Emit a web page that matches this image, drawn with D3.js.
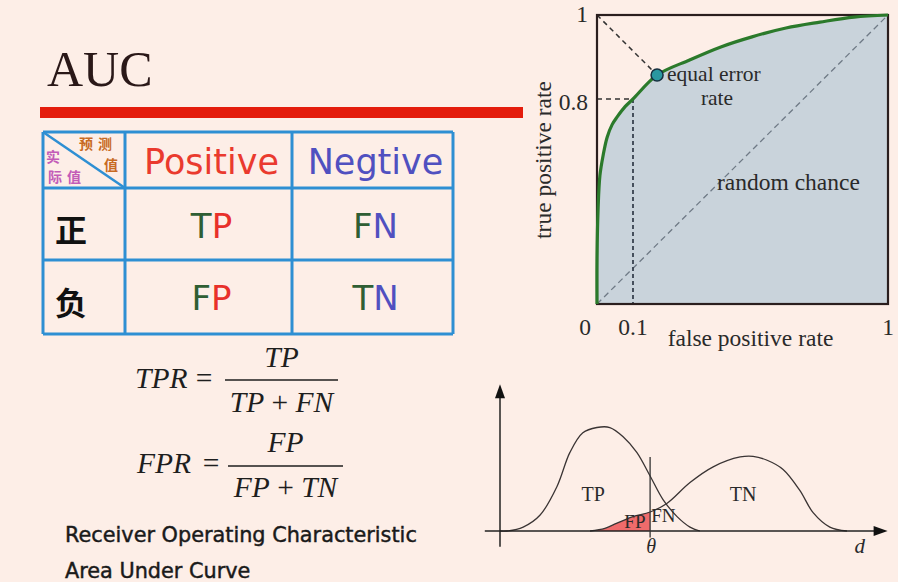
<!DOCTYPE html>
<html><head><meta charset="utf-8">
<script src="https://cdn.jsdelivr.net/npm/d3@7"></script>
<style>html,body{margin:0;padding:0;background:#fdeee7;} svg{display:block}</style>
</head><body><svg id="c" width="898" height="582"></svg>
<script>
// ---------- data ----------
const titleText = "AUC";
const colHeaders = ["Positive", "Negtive"];
const rowHeaders = ["正", "负"];
const cellLabels = [["TP", "FN"], ["FP", "TN"]];
const cornerPredicted = ["预测", "值"];
const cornerActual = ["实", "际值"];

const rocFPR = [0, 0, 0.003, 0.008, 0.017, 0.028, 0.042, 0.056, 0.078, 0.1, 0.185, 0.3, 0.41, 0.52, 0.64, 0.76, 0.88, 1];
const rocTPR = [0, 0.17, 0.37, 0.5, 0.58, 0.65, 0.70, 0.73, 0.77, 0.8, 0.857, 0.893, 0.924, 0.948, 0.969, 0.983, 0.995, 1];
const rocTicksX = [0, 0.1, 1];
const rocTicksY = [0.8, 1];
const eerPoint = [0.185, 0.857];
const operatingPoint = [0.1, 0.8];

const tpD = [0, 0.18, 0.61, 1.05, 1.5, 1.84, 2.18, 2.55, 2.89, 3.24, 3.6, 3.95, 4.29, 4.66, 5.0, 5.26];
const tpDensity = [0, 0, 0.03, 0.12, 0.34, 0.6, 0.75, 0.79, 0.79, 0.72, 0.6, 0.42, 0.24, 0.11, 0.03, 0];
const tnD = [2.37, 2.76, 3.08, 3.5, 3.95, 4.39, 5.0, 5.61, 6.32, 6.66, 7.03, 7.45, 7.89, 8.24, 8.68, 9.13];
const tnDensity = [0, 0.02, 0.06, 0.11, 0.145, 0.21, 0.37, 0.49, 0.565, 0.57, 0.54, 0.47, 0.31, 0.14, 0.03, 0];
const theta = 3.95;

// ---------- page ----------
const svg = d3.select("#c");
svg.append("rect").attr("width", 898).attr("height", 582).attr("fill", "#fdeee7");

const serif = "'Liberation Serif', 'Times New Roman', serif";
const sans = "'DejaVu Sans', Verdana, sans-serif";
const cjk = "'Noto Sans CJK SC', sans-serif";

svg.append("text").text(titleText).attr("x", 47).attr("y", 86)
  .attr("font-family", serif).attr("font-size", 50).attr("fill", "#2a1818");
svg.append("rect").attr("x", 40).attr("y", 107).attr("width", 483).attr("height", 11).attr("fill", "#e41c0c");

// ---------- confusion table ----------
const colEdges = [43, 125, 292, 453];
const rowEdges = [132, 188, 260, 334];
const tbl = svg.append("g");
const lineCol = "#2e8fd3";
colEdges.forEach(x => tbl.append("line").attr("x1", x).attr("x2", x).attr("y1", rowEdges[0]).attr("y2", rowEdges[3])
  .attr("stroke", lineCol).attr("stroke-width", 3));
rowEdges.forEach(y => tbl.append("line").attr("x1", colEdges[0]).attr("x2", colEdges[3]).attr("y1", y).attr("y2", y)
  .attr("stroke", lineCol).attr("stroke-width", 3));
tbl.append("line").attr("x1", colEdges[0]).attr("y1", rowEdges[0]).attr("x2", colEdges[1]).attr("y2", rowEdges[1])
  .attr("stroke", lineCol).attr("stroke-width", 2.5);

const cornerStyle = (t, col) => t.attr("font-family", cjk).attr("font-size", 14).attr("font-weight", 700)
  .attr("fill", col).attr("dominant-baseline", "central").attr("letter-spacing", 5);
cornerStyle(tbl.append("text").text(cornerPredicted[0]).attr("x", 79).attr("y", 143), "#c86a22");
cornerStyle(tbl.append("text").text(cornerPredicted[1]).attr("x", 104).attr("y", 164), "#c86a22");
cornerStyle(tbl.append("text").text(cornerActual[0]).attr("x", 46).attr("y", 156), "#c35cb8");
cornerStyle(tbl.append("text").text(cornerActual[1]).attr("x", 48).attr("y", 176), "#c35cb8");

const headColors = ["#ea3a2e", "#5050c0"];
colHeaders.forEach((h, i) => {
  tbl.append("text").text(h).attr("x", (colEdges[i + 1] + colEdges[i + 2]) / 2 + 3).attr("y", 174)
    .attr("text-anchor", "middle").attr("font-family", sans).attr("font-size", 35).attr("fill", headColors[i]);
});
const rowBase = [238, 310];
rowHeaders.forEach((h, r) => {
  tbl.append("text").text(h).attr("x", (colEdges[0] + colEdges[1]) / 2 - 13).attr("y", (rowEdges[r + 1] + rowEdges[r + 2]) / 2 + 4)
    .attr("text-anchor", "middle").attr("dominant-baseline", "central")
    .attr("font-family", cjk).attr("font-size", 32).attr("font-weight", 700).attr("fill", "#111");
});
const letterColor = { T: "#2f5e34", F: "#2f5e34", P: "#e8302a", N: "#5050c0" };
cellLabels.forEach((row, r) => row.forEach((lab, c) => {
  const t = tbl.append("text").attr("x", (colEdges[c + 1] + colEdges[c + 2]) / 2 + 3).attr("y", rowBase[r])
    .attr("text-anchor", "middle").attr("font-family", sans).attr("font-size", 34);
  lab.split("").forEach(ch => t.append("tspan").text(ch).attr("fill", letterColor[ch]));
}));

// ---------- formulas ----------
function formula(lhs, num, den, lx, eqx, barX1, barX2, barY, base) {
  const g = svg.append("g").attr("font-family", serif).attr("font-size", 29.5).attr("fill", "#1e1e1e");
  g.append("text").text(lhs).attr("x", lx).attr("y", base).attr("font-style", "italic");
  g.append("text").text("=").attr("x", eqx).attr("y", base).attr("text-anchor", "middle");
  g.append("line").attr("x1", barX1).attr("x2", barX2).attr("y1", barY).attr("y2", barY).attr("stroke", "#1e1e1e").attr("stroke-width", 1.6);
  const cx = (barX1 + barX2) / 2;
  g.append("text").text(num).attr("x", cx).attr("y", base - 21).attr("text-anchor", "middle").attr("font-style", "italic");
  const d = g.append("text").attr("x", cx).attr("y", base + 24).attr("text-anchor", "middle");
  d.append("tspan").text(den[0]).attr("font-style", "italic");
  d.append("tspan").text(" + ");
  d.append("tspan").text(den[1]).attr("font-style", "italic");
}
formula("TPR", "TP", ["TP", "FN"], 135, 204, 225, 338, 380, 388);
formula("FPR", "FP", ["FP", "TN"], 137, 211, 228, 343, 466, 473);

const noteStyle = t => t.attr("font-family", sans).attr("font-size", 20.8).attr("fill", "#1a1a1a")
  .attr("stroke", "#1a1a1a").attr("stroke-width", 0.45);
noteStyle(svg.append("text").text("Receiver Operating Characteristic").attr("x", 65).attr("y", 542));
noteStyle(svg.append("text").text("Area Under Curve").attr("x", 65).attr("y", 578));

// ---------- ROC plot ----------
const rx = d3.scaleLinear().domain([0, 0.1, 1]).range([597, 633, 888]);
const ry = d3.scaleLinear().domain([0, 0.8, 1]).range([304, 99, 15]);
const roc = rocFPR.map((f, i) => [f, rocTPR[i]]);
const cr = d3.curveCatmullRom.alpha(0.5);
const rocG = svg.append("g");
rocG.append("path").datum(roc)
  .attr("d", d3.area().x(d => rx(d[0])).y0(ry(0)).y1(d => ry(d[1])).curve(cr))
  .attr("fill", "#c9d3db");
rocG.append("line").attr("x1", rx(0)).attr("y1", ry(0)).attr("x2", rx(1)).attr("y2", ry(1))
  .attr("stroke", "#6f7a86").attr("stroke-width", 1.3).attr("stroke-dasharray", "6,4");
rocG.append("line").attr("x1", rx(0)).attr("y1", ry(1)).attr("x2", rx(eerPoint[0])).attr("y2", ry(eerPoint[1]))
  .attr("stroke", "#333").attr("stroke-width", 1.5).attr("stroke-dasharray", "5,4");
rocG.append("line").attr("x1", rx(0)).attr("y1", ry(operatingPoint[1])).attr("x2", rx(operatingPoint[0])).attr("y2", ry(operatingPoint[1]))
  .attr("stroke", "#333").attr("stroke-width", 1.5).attr("stroke-dasharray", "5,4");
rocG.append("line").attr("x1", rx(operatingPoint[0])).attr("y1", ry(operatingPoint[1])).attr("x2", rx(operatingPoint[0])).attr("y2", ry(0))
  .attr("stroke", "#38424f").attr("stroke-width", 1.8).attr("stroke-dasharray", "4,3");
rocG.append("rect").attr("x", rx(0)).attr("y", ry(1)).attr("width", rx(1) - rx(0)).attr("height", ry(0) - ry(1))
  .attr("fill", "none").attr("stroke", "#2a1e1e").attr("stroke-width", 2.2);
rocG.append("path").datum(roc)
  .attr("d", d3.line().x(d => rx(d[0])).y(d => ry(d[1])).curve(cr))
  .attr("fill", "none").attr("stroke", "#2b7a2b").attr("stroke-width", 3.2);
rocG.append("circle").attr("cx", rx(eerPoint[0])).attr("cy", ry(eerPoint[1])).attr("r", 6)
  .attr("fill", "#2a98a0").attr("stroke", "#163040").attr("stroke-width", 1.5);

const rt = (s, x, y, anchor, size) => rocG.append("text").text(s).attr("x", x).attr("y", y)
  .attr("text-anchor", anchor || "middle").attr("font-family", serif).attr("font-size", size || 23.5).attr("fill", "#2a2a2a");
rocTicksX.forEach(v => {
  if (v === 0) rt(String(v), rx(v) - 6, 335, "end");
  else rt(String(v), rx(v), 335);
});
rocTicksY.forEach(v => rt(String(v), rx(0) - 9, ry(v) + (v === 1 ? 7 : 11), "end"));
rt("false positive rate", (rx(0) + rx(1)) / 2 + 8, 346);
rocG.append("text").text("true positive rate").attr("transform", `translate(551,${160}) rotate(-90)`)
  .attr("text-anchor", "middle").attr("font-family", serif).attr("font-size", 23.5).attr("fill", "#2a2a2a");
rt("equal error", rx(eerPoint[0]) + 10, 81, "start", 21.5);
rt("rate", 717, 105, "middle", 21.5);
rt("random chance", 717, 190, "start");

// ---------- distributions ----------
const dx = d3.scaleLinear().domain([0, 10]).range([500, 880]);
const dy = d3.scaleLinear().domain([0, 1]).range([531, 400]);
const dg = svg.append("g");
const tp = tpD.map((d, i) => [d, tpDensity[i]]);
const tn = tnD.map((d, i) => [d, tnDensity[i]]);
const cb = d3.curveCatmullRom.alpha(0.5);
svg.append("clipPath").attr("id", "fpclip").append("rect")
  .attr("x", dx(0)).attr("y", 0).attr("width", dx(theta) - dx(0)).attr("height", 582);
dg.append("path").datum(tn).attr("clip-path", "url(#fpclip)")
  .attr("d", d3.area().x(d => dx(d[0])).y0(dy(0)).y1(d => dy(d[1])).curve(cb))
  .attr("fill", "#ef6b6b");
[tp, tn].forEach(s => dg.append("path").datum(s)
  .attr("d", d3.line().x(d => dx(d[0])).y(d => dy(d[1])).curve(cb))
  .attr("fill", "none").attr("stroke", "#3a3434").attr("stroke-width", 1.3));
// axes with arrows
const ax0 = dx(-0.4), ax1 = dx(10.2), ay0 = dy(-0.12), ay1 = dy(1.12);
dg.append("line").attr("x1", ax0).attr("x2", ax1 - 6).attr("y1", dy(0)).attr("y2", dy(0)).attr("stroke", "#222").attr("stroke-width", 1.5);
dg.append("path").attr("d", `M${ax1},${dy(0)} L${ax1 - 14},${dy(0) - 5} L${ax1 - 14},${dy(0) + 5} Z`).attr("fill", "#111");
dg.append("line").attr("x1", dx(0)).attr("x2", dx(0)).attr("y1", ay0).attr("y2", ay1 + 6).attr("stroke", "#222").attr("stroke-width", 1.5);
dg.append("path").attr("d", `M${dx(0)},${ay1} L${dx(0) - 5},${ay1 + 14} L${dx(0) + 5},${ay1 + 14} Z`).attr("fill", "#111");
dg.append("line").attr("x1", dx(theta)).attr("x2", dx(theta)).attr("y1", dy(0.565)).attr("y2", dy(-0.05))
  .attr("stroke", "#333").attr("stroke-width", 1.3);
const dt = (s, d, v, size, italic) => dg.append("text").text(s).attr("x", dx(d)).attr("y", dy(v))
  .attr("text-anchor", "middle").attr("font-family", serif).attr("font-size", size)
  .attr("font-style", italic ? "italic" : "normal").attr("fill", "#2a2a2a");
dt("TP", 2.45, 0.23, 20);
dt("TN", 6.4, 0.23, 20);
dt("FP", 3.55, 0.02, 19);
dt("FN", 4.3, 0.07, 19);
dt("θ", theta + 0.03, -0.168, 20, true);
dt("d", 9.47, -0.168, 21, true);
</script></body></html>
